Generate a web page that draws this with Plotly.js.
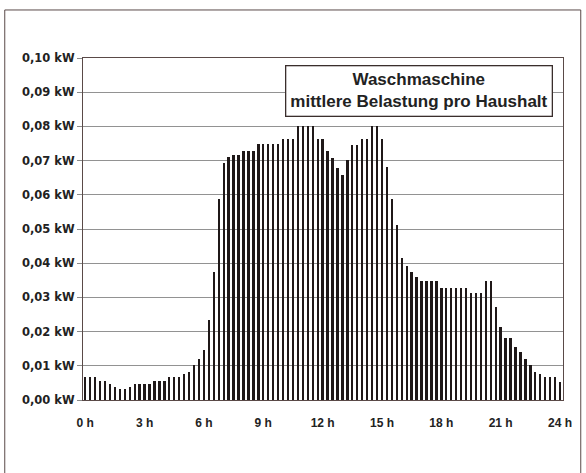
<!DOCTYPE html>
<html>
<head>
<meta charset="utf-8">
<script src="https://cdn.plot.ly/plotly-3.0.1.min.js"></script>
<style>
  html, body { margin: 0; padding: 0; background: #ffffff; }
  #chart { width: 586px; height: 473px; }
</style>
</head>
<body>
<div id="chart"></div>
<script>
// Quarter-hour slots 0:00 ... 24:00 (97 points)
const slots = Array.from({length: 97}, (_, i) => i);

// Mean load per household (kW)
const loadKW = [
  0.0066, 0.0066, 0.0066, 0.0056, 0.0056, 0.0047, 0.0037, 0.0033, 0.0033, 0.0037,
  0.0047, 0.0047, 0.0047, 0.0047, 0.0056, 0.0056, 0.0056, 0.0066, 0.0066, 0.0066,
  0.0075, 0.0082, 0.0101, 0.0121, 0.0147, 0.0233, 0.0375, 0.0587, 0.0692, 0.0710,
  0.0717, 0.0717, 0.0729, 0.0729, 0.0729, 0.0748, 0.0748, 0.0748, 0.0748, 0.0748,
  0.0763, 0.0763, 0.0763, 0.0800, 0.0800, 0.0800, 0.0800, 0.0763, 0.0763, 0.0728,
  0.0708, 0.0677, 0.0658, 0.0701, 0.0747, 0.0747, 0.0763, 0.0763, 0.0800, 0.0800,
  0.0763, 0.0680, 0.0588, 0.0513, 0.0414, 0.0393, 0.0375, 0.0360, 0.0347, 0.0347,
  0.0347, 0.0347, 0.0327, 0.0327, 0.0327, 0.0327, 0.0327, 0.0327, 0.0312, 0.0312,
  0.0312, 0.0347, 0.0347, 0.0273, 0.0213, 0.0182, 0.0182, 0.0156, 0.0140, 0.0120,
  0.0101, 0.0082, 0.0076, 0.0067, 0.0067, 0.0067, 0.0052
];

// X tick positions and labels
const xTickVals = [0, 12, 24, 36, 48, 60, 72, 84, 96];
const xTickText = ["0 h", "3 h", "6 h", "9 h", "12 h", "15 h", "18 h", "21 h", "24 h"];

const titleLines = ["Waschmaschine", "mittlere Belastung pro Haushalt"];

const fontFam = "Liberation Sans, Arial, sans-serif";
const yFontFam = "DejaVu Sans, Liberation Sans, Arial, sans-serif";

const trace = {
  type: "bar",
  x: slots,
  y: loadKW,
  width: 0.48,
  marker: { color: "#1f1818", line: { width: 0 } },
  hoverinfo: "skip"
};

const layout = {
  width: 586,
  height: 473,
  margin: { l: 83, r: 23, t: 58, b: 73, pad: 0 },
  paper_bgcolor: "#ffffff",
  plot_bgcolor: "#ffffff",
  separators: ",.",
  showlegend: false,
  bargap: 0,
  font: { family: fontFam, size: 12, color: "#222222" },
  xaxis: {
    range: [-0.45, 96.6],
    tickmode: "array",
    tickvals: xTickVals,
    ticktext: xTickText,
    ticks: "",
    showgrid: false,
    zeroline: false,
    showline: true,
    linecolor: "#5a4a48",
    linewidth: 1,
    mirror: true,
    tickfont: { family: fontFam, size: 12, color: "#222222", weight: "bold" },
    ticklabelstandoff: 12
  },
  yaxis: {
    range: [0, 0.1],
    dtick: 0.01,
    tick0: 0,
    tickformat: ".2f",
    ticksuffix: " kW",
    ticks: "outside",
    ticklen: 5,
    tickcolor: "#8a8a8a",
    showgrid: true,
    gridcolor: "#929292",
    gridwidth: 1,
    zeroline: false,
    showline: true,
    linecolor: "#5a4a48",
    linewidth: 1,
    mirror: true,
    tickfont: { family: yFontFam, size: 11.5, color: "#222222", weight: "bold" }
  },
  annotations: [{
    xref: "paper", yref: "paper",
    x: 0.979, y: 0.979,
    xanchor: "right", yanchor: "top",
    text: titleLines.join("<br>"),
    showarrow: false,
    align: "center",
    font: { family: fontFam, size: 17, color: "#222222", weight: "bold" },
    bordercolor: "#3a2e2c",
    borderwidth: 1.3,
    borderpad: 4,
    bgcolor: "#ffffff"
  }],
  shapes: [{
    type: "rect",
    xref: "paper", yref: "paper",
    x0: -0.163, x1: 1.037,
    y0: -0.25, y1: 1.1404,
    line: { color: "#5a4a48", width: 1 },
    fillcolor: "rgba(0,0,0,0)",
    layer: "below"
  }]
};

Plotly.newPlot("chart", [trace], layout, { displayModeBar: false, staticPlot: true });
</script>
</body>
</html>
